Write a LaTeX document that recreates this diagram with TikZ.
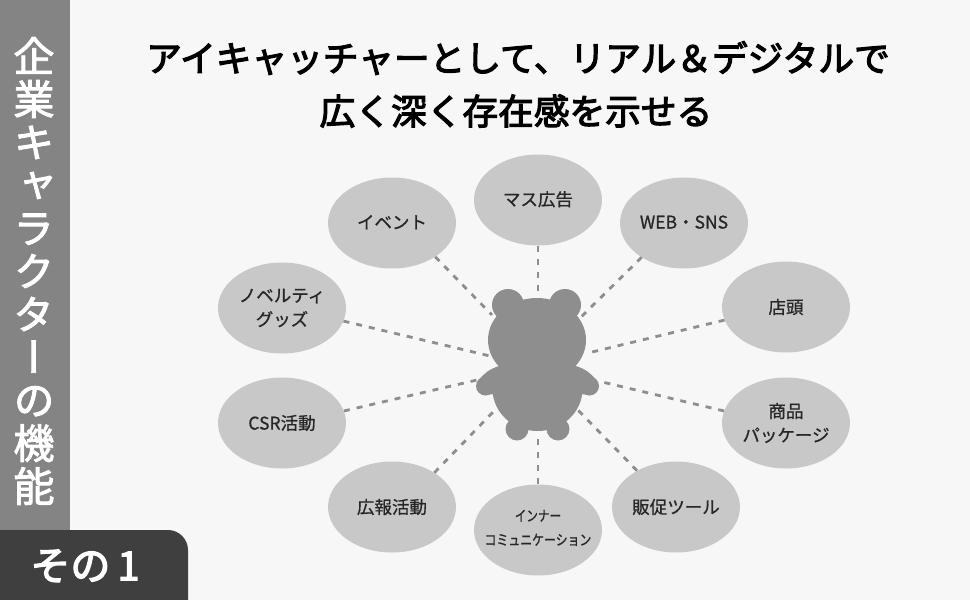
\documentclass[tikz,border=0pt]{standalone}
\usepackage{fontspec}
\usepackage{graphicx}
\usetikzlibrary{shapes.geometric}
\setmainfont{Noto Sans CJK JP}
\newfontfamily\vcjk[RawFeature={+vert},FakeBold=2.2]{Noto Sans CJK JP}
\newfontfamily\headcjk[FakeBold=3.2]{Noto Sans CJK JP}
\newfontfamily\labelcjk[FakeBold=0.8]{Noto Sans CJK JP}
\newcommand{\lift}[2][1pt]{\raisebox{#1}{#2}}
\definecolor{pagebg}{HTML}{F7F7F7}
\definecolor{sidegray}{HTML}{848484}
\definecolor{beargray}{HTML}{8E8E8E}
\definecolor{bubblegray}{HTML}{C8C8C8}
\definecolor{tabgray}{HTML}{3F3F3F}
\tikzset{
  bubble/.style={ellipse,fill=bubblegray,minimum width=128pt,minimum height=91pt,inner sep=0pt,align=center,font=\fontsize{17.5}{24}\selectfont\labelcjk,text=black!85},
  spoke/.style={draw=beargray,line width=2.8pt,dash pattern=on 6pt off 7pt},
  headline/.style={inner sep=0pt,font=\fontsize{35.7}{36}\selectfont\headcjk,text=black},
}
\begin{document}
\begin{tikzpicture}[x=1pt,y=-1pt]
\useasboundingbox (0,0) rectangle (970,600);
\fill[pagebg] (0,0) rectangle (970,600);
\fill[sidegray] (0,0) rectangle (70,530);
\fill[tabgray] (0,600) -- (0,530) -- (168,530) .. controls (179,530) and (188,539) .. (188,550) -- (188,600) -- cycle;
\node[inner sep=0pt,white,align=center,font=\fontsize{41}{43}\selectfont\vcjk] (sidetitle) at (34,271) {企\\業\\キ\\ャ\\ラ\\ク\\タ\\ー\\の\\機\\能};
\node[inner sep=0pt,white,font=\fontsize{40}{40}\selectfont\headcjk] (part) at (85,566) {その\hspace{7pt}1};
\node[headline] (title1) at (518,58) {アイキャッチャーとして、リアル＆デジタルで};
\node[headline] (title2) at (516,111) {広く深く存在感を示せる};
% bear
\fill[beargray] (508,305) circle[radius=16] (565,305) circle[radius=16]
  (537,340) ellipse[x radius=49,y radius=42]
  (537.5,389) ellipse[x radius=45,y radius=42]
  (517,429) circle[radius=11.5] (558,429) circle[radius=11.5]
  (485.5,386) circle[radius=9.5] (589.5,386) circle[radius=9.5];
\fill[beargray] (499,366) .. controls (490,369) and (484,373) .. (479,380) -- (484,395) -- (495,394) -- (510,370) -- cycle;
\fill[beargray] (576,366) .. controls (585,369) and (591,373) .. (596,380) -- (591,395) -- (580,394) -- (565,370) -- cycle;
\coordinate (bT) at (538,295);
\coordinate (bTR) at (580,318);
\coordinate (bRU) at (588,353);
\coordinate (bRL) at (598,381);
\coordinate (bBR) at (578,410);
\coordinate (bB) at (538,436);
\coordinate (bBL) at (495,410);
\coordinate (bLL) at (477,380);
\coordinate (bLU) at (490,356);
\coordinate (bTL) at (492,315);
% bubbles
\node[bubble] (mass) at (538,200) {\lift[3pt]{マス広告}};
\node[bubble] (web) at (684,223) {\lift[2pt]{WEB・SNS}};
\node[bubble] (shop) at (786,307) {\lift{店頭}};
\node[bubble] (goods) at (786,423) {\lift{商品}\\\lift{パッケージ}};
\node[bubble] (sales) at (676,507) {販促ツール};
\node[bubble,font=\fontsize{14.5}{24}\selectfont\labelcjk] (inner) at (538,530) {\lift[5pt]{\makebox[0pt]{\scalebox{0.8}[1]{インナー}}}\\\lift[5pt]{\makebox[0pt]{\scalebox{0.82}[1]{コミュニケーション}}}};
\node[bubble] (pr) at (392,507) {\lift{広報活動}};
\node[bubble] (csr) at (282,423) {\lift{CSR活動}};
\node[bubble] (novelty) at (282,308) {\lift{ノベルティ}\\\lift{グッズ}};
\node[bubble] (event) at (392,223) {\lift[2pt]{イベント}};
% spokes
\draw[spoke] (mass.south) -- (bT);
\draw[spoke] (web.219) -- (bTR);
\draw[spoke] (shop.192) -- (bRU);
\draw[spoke] (goods.169) -- (bRL);
\draw[spoke] (sales.137) -- (bBR);
\draw[spoke] (inner.north) -- (bB);
\draw[spoke] (pr.39) -- (bBL);
\draw[spoke] (csr.11) -- (bLL);
\draw[spoke] (novelty.348) -- (bLU);
\draw[spoke] (event.322) -- (bTL);
\end{tikzpicture}
\end{document}
